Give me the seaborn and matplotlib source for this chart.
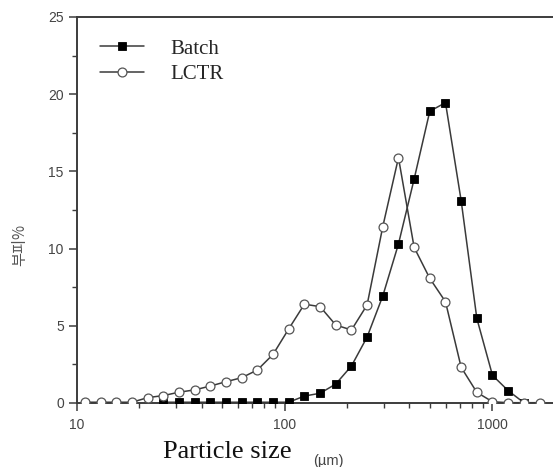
import numpy as np
import pandas as pd
import matplotlib
matplotlib.use("Agg")
import matplotlib.pyplot as plt
import seaborn as sns
from matplotlib.ticker import FixedLocator, NullFormatter, LogLocator

# particle-size bins (um)
sizes = [10.93, 13.01, 15.47, 18.42, 21.92, 26.08, 31.02, 36.93, 43.94, 52.28,
         62.21, 74.03, 88.07, 104.8, 124.7, 148.4, 176.6, 210.2, 250.0, 297.5,
         354.1, 421.3, 501.3, 596.6, 710.0, 844.8, 1005, 1196, 1424, 1694]

lctr = [0.05, 0.05, 0.05, 0.05, 0.35, 0.48, 0.70, 0.85, 1.10, 1.38,
        1.64, 2.14, 3.15, 4.80, 6.40, 6.24, 5.05, 4.73, 6.35, 11.42,
        15.89, 10.08, 8.07, 6.56, 2.31, 0.69, 0.08, 0.02, 0.02, 0.02]

batch_sizes = sizes[5:29]
batch = [0.05, 0.05, 0.05, 0.05, 0.05, 0.05, 0.05, 0.05, 0.05, 0.45,
         0.63, 1.23, 2.40, 4.27, 6.93, 10.30, 14.50, 18.90, 19.45, 13.10,
         5.48, 1.79, 0.80, 0.02]

series_names = ["Batch", "LCTR"]
y_ticks = [0, 5, 10, 15, 20, 25]
x_ticks = [10, 100, 1000]
x_tick_labels = ["10", "100", "1000"]

df_batch = pd.DataFrame({"size": batch_sizes, "vol": batch})
df_lctr = pd.DataFrame({"size": sizes, "vol": lctr})

sns.set_style("ticks")
plt.rcParams["font.family"] = ["Liberation Sans", "DejaVu Sans"]

fig = plt.figure(figsize=(5.53, 4.67), dpi=100)
ax = fig.add_axes([77 / 553, 1 - 403 / 467, 477.5 / 553, 386 / 467])

line_col = "#3a3a3a"
sns.lineplot(data=df_batch, x="size", y="vol", ax=ax, color=line_col, lw=1.1,
             marker="s", markersize=5.5, markerfacecolor="black",
             markeredgecolor="black", markeredgewidth=0.6,
             label=series_names[0], zorder=3)
sns.lineplot(data=df_lctr, x="size", y="vol", ax=ax, color=line_col, lw=1.1,
             marker="o", markersize=6.4, markerfacecolor="white",
             markeredgecolor="#555555", markeredgewidth=0.9,
             label=series_names[1], zorder=4)

ax.set_xscale("log")
ax.set_xlim(10, 2000)
ax.set_ylim(0, 25)
ax.xaxis.set_major_locator(FixedLocator(x_ticks))
ax.set_xticklabels(x_tick_labels)
ax.xaxis.set_minor_locator(LogLocator(base=10, subs=np.arange(2, 10)))
ax.xaxis.set_minor_formatter(NullFormatter())
ax.set_yticks(y_ticks)
ax.yaxis.set_minor_locator(FixedLocator([2.5, 7.5, 12.5, 17.5, 22.5]))

for s in ax.spines.values():
    s.set_color("#3c3c3c")
    s.set_linewidth(1.4)

ax.tick_params(axis="both", which="major", direction="out", length=6,
               width=1.1, color="#3c3c3c", labelsize=10, labelcolor="#444444")
ax.tick_params(axis="y", which="major", pad=3.5)
ax.tick_params(axis="x", which="major", pad=5)
ax.tick_params(axis="both", which="minor", direction="out", length=3.5,
               width=1.0, color="#3c3c3c")

ax.set_xlabel("")
ax.set_ylabel("")

leg = ax.legend(loc="upper left", bbox_to_anchor=(100 / 553, 1 - 39 / 467),
                bbox_transform=fig.transFigure, frameon=False,
                prop={"family": "Liberation Serif", "size": 15},
                handlelength=2.1, handletextpad=1.3, labelspacing=0.28,
                borderpad=0, borderaxespad=0)

fig.text(163 / 553, 1 - 458 / 467, "Particle size", family="Liberation Serif",
         fontsize=19, color="#111111", ha="left", va="baseline")
fig.text(313 / 553, 1 - 461 / 467, "(\u00b5m)", family="Liberation Sans",
         fontsize=10.5, color="#444444", ha="left", va="center")
fig.text(20 / 553, 1 - 245 / 467, "부피%", family=["Noto Sans CJK KR", "DejaVu Sans"],
         fontsize=11, color="#555555", rotation=90, ha="center", va="center")

fig.savefig("out.png", dpi=100, facecolor="white")
